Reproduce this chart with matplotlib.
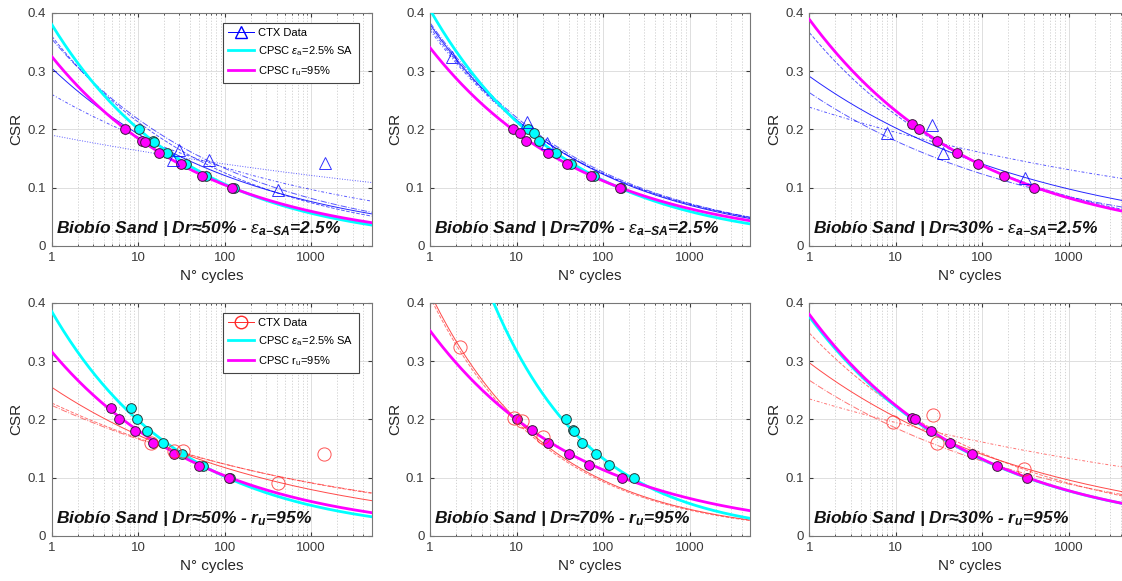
import numpy as np
import matplotlib
matplotlib.use('Agg')
import matplotlib.pyplot as plt
from matplotlib.lines import Line2D
from matplotlib.ticker import NullFormatter, LogLocator

plt.rcParams['font.family'] = ['Liberation Sans', 'DejaVu Sans']
plt.rcParams['mathtext.fontset'] = 'custom'
plt.rcParams['mathtext.rm'] = 'Liberation Sans'
plt.rcParams['mathtext.it'] = 'Liberation Sans:italic'
plt.rcParams['mathtext.bf'] = 'Liberation Sans:italic:bold'

# ---- data ----
# top row: eps_a-SA = 2.5%, bottom row: r_u = 95%
# CTX test points
ctx_n_50e = [25, 29.8, 65, 409, 1455]
ctx_csr_50e = [0.147, 0.165, 0.147, 0.096, 0.143]
ctx_n_70e = [1.78, 13.2, 22.5]
ctx_csr_70e = [0.3245, 0.213, 0.176]
ctx_n_30e = [8, 26, 35, 313]
ctx_csr_30e = [0.194, 0.207, 0.159, 0.116]
ctx_n_50r = [14, 26, 32.6, 416, 1415]
ctx_csr_50r = [0.16, 0.145, 0.146, 0.0914, 0.14]
ctx_n_70r = [2.22, 9.4, 11.5, 20.4]
ctx_csr_70r = [0.3245, 0.2017, 0.197, 0.17]
ctx_n_30r = [9.4, 27, 30.3, 305]
ctx_csr_30r = [0.195, 0.2074, 0.159, 0.115]

# CPSC eps_a=2.5% SA points (cyan)
cy_n_50e = [10.2, 14.9, 15.4, 21.4, 36, 61.5, 127]
cy_csr_50e = [0.2, 0.18, 0.178, 0.16, 0.14, 0.12, 0.10]
cy_n_70e = [13.4, 16, 18.3, 28.8, 43, 78, 162]
cy_csr_70e = [0.2, 0.193, 0.18, 0.16, 0.14, 0.12, 0.10]
cy_n_50r = [8.17, 9.6, 12.5, 19.6, 32, 56.7, 116]
cy_csr_50r = [0.22, 0.2, 0.18, 0.16, 0.14, 0.12, 0.10]
cy_n_70r = [37, 45, 46, 57.8, 82.4, 117, 228]
cy_csr_70r = [0.2, 0.182, 0.18, 0.16, 0.14, 0.122, 0.10]

# CPSC r_u=95% points (magenta)
mg_n_50e = [6.95, 11.2, 12, 17.2, 31.2, 54.3, 121]
mg_csr_50e = [0.2, 0.18, 0.178, 0.16, 0.14, 0.12, 0.10]
mg_n_70e = [9.0, 11, 12.9, 23.1, 38.4, 72.8, 159]
mg_csr_70e = [0.2, 0.193, 0.18, 0.16, 0.14, 0.12, 0.10]
mg_n_30e = [15.3, 18.7, 30, 50.4, 89, 180, 392]
mg_csr_30e = [0.21, 0.2, 0.18, 0.16, 0.14, 0.12, 0.10]
mg_n_50r = [4.9, 5.97, 9.09, 14.9, 26.1, 51, 112]
mg_csr_50r = [0.22, 0.2, 0.18, 0.16, 0.14, 0.12, 0.10]
mg_n_70r = [10, 15, 22.9, 40.5, 69, 166]
mg_csr_70r = [0.2, 0.181, 0.16, 0.14, 0.122, 0.10]
mg_n_30r = [15.5, 16.5, 25.3, 42.3, 75.8, 149, 327]
mg_csr_30r = [0.203, 0.2, 0.18, 0.16, 0.14, 0.12, 0.10]

# fitted curves CSR = a * N^-b  (a, b)
ctx_a_50e = [0.305, 0.36, 0.355, 0.26, 0.19]
ctx_b_50e = [0.201, 0.229, 0.213, 0.143, 0.0654]
ctx_a_70e = [0.38, 0.375, 0.383, 0.37]
ctx_b_70e = [0.245, 0.24, 0.24, 0.237]
ctx_a_30e = [0.291, 0.366, 0.263, 0.238]
ctx_b_30e = [0.158, 0.2115, 0.1646, 0.0866]
ctx_a_50r = [0.255, 0.228, 0.224]
ctx_b_50r = [0.1687, 0.1334, 0.13]
ctx_a_70r = [0.417, 0.41]
ctx_b_70r = [0.3197, 0.322]
ctx_a_30r = [0.297, 0.348, 0.267, 0.235]
ctx_b_30r = [0.1637, 0.195, 0.159, 0.0822]

cy_fit = {'50e': (0.38, 0.277), '70e': (0.405, 0.278), '50r': (0.385, 0.2885),
          '70r': (0.758, 0.378), '30r': (0.376, 0.229)}
mg_fit = {'50e': (0.325, 0.246), '70e': (0.34, 0.2417), '30e': (0.3886, 0.2248),
          '50r': (0.316, 0.2427), '70r': (0.352, 0.2458), '30r': (0.38, 0.23)}

titles = {
    '50e': r'Biobío Sand | Dr≈50% - $\epsilon_{\mathbf{a{-}SA}}$=2.5%',
    '70e': r'Biobío Sand | Dr≈70% - $\epsilon_{\mathbf{a{-}SA}}$=2.5%',
    '30e': r'Biobío Sand | Dr≈30% - $\epsilon_{\mathbf{a{-}SA}}$=2.5%',
    '50r': r'Biobío Sand | Dr≈50% - $\mathbf{r_u}$=95%',
    '70r': r'Biobío Sand | Dr≈70% - $\mathbf{r_u}$=95%',
    '30r': r'Biobío Sand | Dr≈30% - $\mathbf{r_u}$=95%',
}

styles = ['-', '--', '-.', (0, (3, 2, 1, 2)), ':']
N = np.logspace(0, np.log10(5000), 300)

W, H = 1122, 581
fig = plt.figure(figsize=(W / 100, H / 100), dpi=100)
lefts = [51.7, 430, 809.3]
tops = [12.7, 302.7]
aw, ah = 320, 233.3

BLUE = '#0000ff'
RED = '#ff2a2a'
CYAN = '#00ffff'
MAG = '#ff00ff'


def setup(ax):
    ax.set_xscale('log')
    ax.set_xlim(1, 5000)
    ax.set_ylim(0, 0.4)
    ax.set_xticks([1, 10, 100, 1000])
    ax.set_xticklabels(['1', '10', '100', '1000'])
    ax.xaxis.set_minor_locator(LogLocator(base=10, subs=np.arange(2, 10)))
    ax.xaxis.set_minor_formatter(NullFormatter())
    ax.set_yticks([0, 0.1, 0.2, 0.3, 0.4])
    ax.set_yticklabels(['0', '0.1', '0.2', '0.3', '0.4'])
    ax.grid(which='major', color='#dedede', lw=0.7, ls='-')
    ax.grid(which='minor', axis='x', color='#cccccc', lw=0.6, ls=(0, (1.5, 2)))
    ax.set_axisbelow(True)
    ax.tick_params(which='both', direction='in', top=True, right=True,
                   labelsize=9.5, colors='#3a3a3a', pad=4)
    ax.tick_params(which='major', length=3)
    ax.tick_params(which='minor', length=1.5)
    for s in ax.spines.values():
        s.set_color('#777777')
        s.set_linewidth(0.8)
    ax.set_xlabel('N° cycles', fontsize=11, color='#262626', labelpad=4)
    ax.set_ylabel('CSR', fontsize=11, color='#262626', labelpad=3)


panels = [
    ('50e', 0, 0, 'e'), ('70e', 0, 1, 'e'), ('30e', 0, 2, 'e'),
    ('50r', 1, 0, 'r'), ('70r', 1, 1, 'r'), ('30r', 1, 2, 'r'),
]
ctx_n = {'50e': ctx_n_50e, '70e': ctx_n_70e, '30e': ctx_n_30e,
         '50r': ctx_n_50r, '70r': ctx_n_70r, '30r': ctx_n_30r}
ctx_csr = {'50e': ctx_csr_50e, '70e': ctx_csr_70e, '30e': ctx_csr_30e,
           '50r': ctx_csr_50r, '70r': ctx_csr_70r, '30r': ctx_csr_30r}
ctx_a = {'50e': ctx_a_50e, '70e': ctx_a_70e, '30e': ctx_a_30e,
         '50r': ctx_a_50r, '70r': ctx_a_70r, '30r': ctx_a_30r}
ctx_b = {'50e': ctx_b_50e, '70e': ctx_b_70e, '30e': ctx_b_30e,
         '50r': ctx_b_50r, '70r': ctx_b_70r, '30r': ctx_b_30r}
cy_pts = {'50e': (cy_n_50e, cy_csr_50e), '70e': (cy_n_70e, cy_csr_70e),
          '50r': (cy_n_50r, cy_csr_50r), '70r': (cy_n_70r, cy_csr_70r)}
mg_pts = {'50e': (mg_n_50e, mg_csr_50e), '70e': (mg_n_70e, mg_csr_70e),
          '30e': (mg_n_30e, mg_csr_30e), '50r': (mg_n_50r, mg_csr_50r),
          '70r': (mg_n_70r, mg_csr_70r), '30r': (mg_n_30r, mg_csr_30r)}

for key, row, col, kind in panels:
    ax = fig.add_axes([lefts[col] / W, 1 - (tops[row] + ah) / H, aw / W, ah / H])
    setup(ax)
    c = BLUE if kind == 'e' else RED
    mk = '^' if kind == 'e' else 'o'
    # CTX fitted curves
    for i, (a, b) in enumerate(zip(ctx_a[key], ctx_b[key])):
        ax.plot(N, a * N ** (-b), color=c, lw=0.7, ls=styles[i % len(styles)],
                alpha=0.85 if i == 0 else 0.65, zorder=2)
    # CPSC curves
    if key in cy_fit:
        a, b = cy_fit[key]
        ax.plot(N, a * N ** (-b), color=CYAN, lw=2, zorder=3)
    a, b = mg_fit[key]
    ax.plot(N, a * N ** (-b), color=MAG, lw=2, zorder=4)
    # points
    if key in cy_pts:
        ax.plot(cy_pts[key][0], cy_pts[key][1], 'o', ms=7, mfc=CYAN,
                mec='#2a3a3a', mew=0.7, zorder=5)
    ax.plot(mg_pts[key][0], mg_pts[key][1], 'o', ms=7, mfc=MAG,
            mec='#3a203a', mew=0.7, zorder=6)
    ax.plot(ctx_n[key], ctx_csr[key], mk, ms=9 if kind == 'e' else 9.5,
            mfc='none', mec=c, mew=0.7, alpha=0.8, zorder=7)
    ax.text(0.013, 0.055, titles[key], transform=ax.transAxes, fontsize=12.5,
            fontweight='bold', fontstyle='italic', va='baseline', ha='left',
            color='#111111', zorder=10)
    if col == 0:
        h = [Line2D([], [], color=c, lw=0.7, marker=mk, ms=9, mfc='none', mec=c),
             Line2D([], [], color=CYAN, lw=2),
             Line2D([], [], color=MAG, lw=2)]
        lab = ['CTX Data', r'CPSC $\epsilon_\mathrm{a}$=2.5% SA',
               r'CPSC $\mathrm{r_u}$=95%']
        leg = ax.legend(h, lab, loc='upper right',
                        bbox_to_anchor=(1 - 13 / aw, 1 - 10 / ah),
                        borderaxespad=0, fontsize=8, fancybox=False,
                        framealpha=1, edgecolor='#444444', handlelength=2.3,
                        handletextpad=0.4, labelspacing=0.55, borderpad=0.45)
        leg.get_frame().set_linewidth(0.8)
        leg.set_zorder(20)

fig.savefig('out.png', dpi=100)
